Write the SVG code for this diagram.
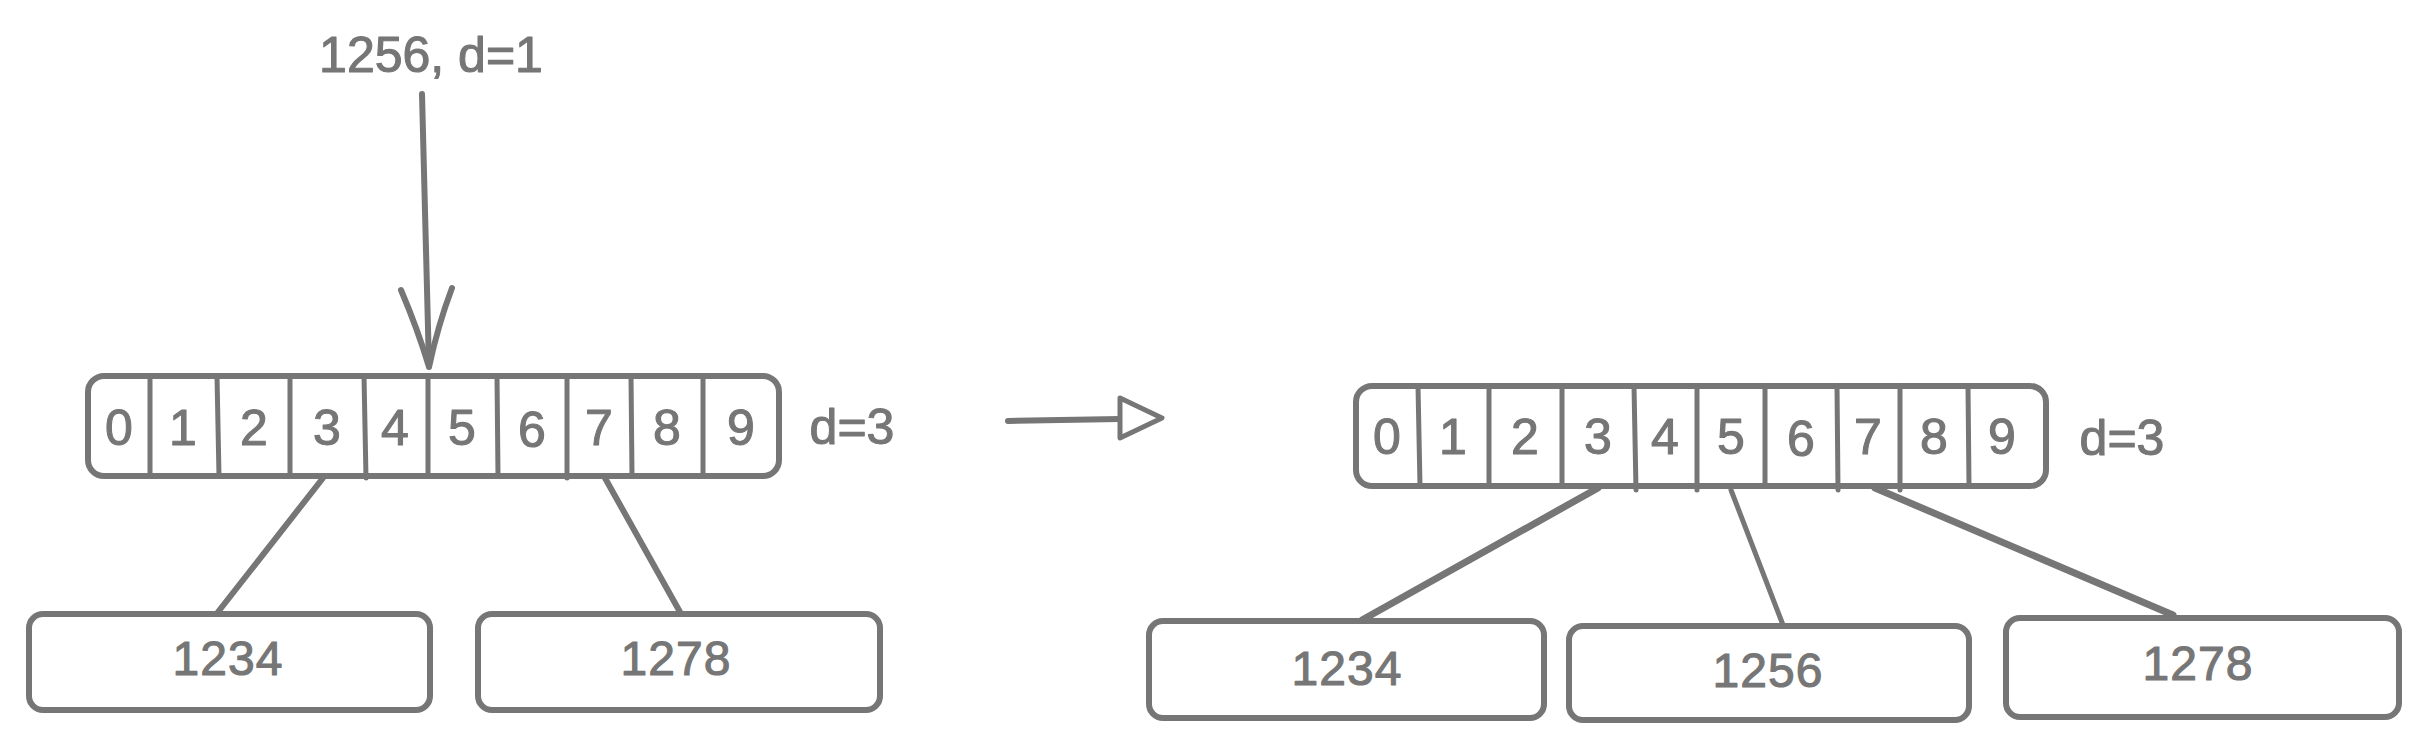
<svg xmlns="http://www.w3.org/2000/svg" width="2419" height="749" viewBox="0 0 2419 749">
  <defs>
    <style>
      .box { fill: #ffffff; stroke: #767676; stroke-width: 6; stroke-linejoin: round; }
      .div { stroke: #767676; stroke-width: 5; stroke-linecap: round; }
      .con { stroke: #767676; stroke-width: 6; stroke-linecap: round; fill: none; }
      .t { font-family: "Liberation Sans", Arial, sans-serif; fill: #767676; stroke: #767676; stroke-width: 1.1; stroke-linejoin: round; text-anchor: middle; }
      .dg { font-size: 50px; }
      .lb { font-size: 48px; letter-spacing: 1px; }
    </style>
  </defs>
  <rect width="2419" height="749" fill="#ffffff"/>

  <g id="connectors">
    <path class="con" d="M422,94 L429,367"/>
    <path class="con" d="M401,290 Q418,330 429,367 Q438,325 452,288"/>
    <path class="con" d="M323,478 L218,612"/>
    <path class="con" d="M605,478 L680,612"/>
    <path class="con" d="M1008,421 L1120,419"/>
    <path class="con" d="M1120,398 L1162,418 L1120,438 Z" style="stroke-width:5;stroke-linejoin:round;fill:#ffffff"/>
    <path class="con" d="M1598,488 L1362,620" style="stroke-width:7"/>
    <path class="con" d="M1731,490 L1783,625" style="stroke-width:5"/>
    <path class="con" d="M1875,488 L2173,615" style="stroke-width:7"/>
  </g>

  <g id="label-insert">
    <text class="t dg" x="431" y="72">1256, d=1</text>
  </g>

  <g id="array-left">
    <rect class="box" x="88" y="376" width="691" height="100" rx="16"/>
    <line class="div" x1="150" y1="376" x2="150" y2="476"/>
    <line class="div" x1="217" y1="376" x2="219" y2="476"/>
    <line class="div" x1="290" y1="376" x2="290" y2="476"/>
    <line class="div" x1="364" y1="376" x2="366" y2="478"/>
    <line class="div" x1="428" y1="376" x2="428" y2="476"/>
    <line class="div" x1="497" y1="376" x2="498" y2="476"/>
    <line class="div" x1="567" y1="376" x2="567" y2="478"/>
    <line class="div" x1="631" y1="376" x2="632" y2="476"/>
    <line class="div" x1="703" y1="376" x2="703" y2="476"/>
    <g class="t dg">
      <text x="119" y="445">0</text>
      <text x="183" y="445">1</text>
      <text x="254" y="445">2</text>
      <text x="327" y="445">3</text>
      <text x="395" y="445">4</text>
      <text x="462" y="445">5</text>
      <text x="532" y="447">6</text>
      <text x="599" y="445">7</text>
      <text x="667" y="445">8</text>
      <text x="741" y="445">9</text>
    </g>
    <text class="t dg" x="852" y="444">d=3</text>
  </g>

  <g id="leaf-left-1234">
    <rect class="box" x="29" y="614" width="401" height="96" rx="14"/>
    <text class="t lb" x="228" y="675">1234</text>
  </g>
  <g id="leaf-left-1278">
    <rect class="box" x="478" y="614" width="402" height="96" rx="14"/>
    <text class="t lb" x="676" y="675">1278</text>
  </g>

  <g id="array-right">
    <rect class="box" x="1356" y="386" width="690" height="100" rx="16"/>
    <line class="div" x1="1418" y1="386" x2="1420" y2="486"/>
    <line class="div" x1="1489" y1="386" x2="1489" y2="486"/>
    <line class="div" x1="1562" y1="386" x2="1562" y2="486"/>
    <line class="div" x1="1634" y1="386" x2="1636" y2="490"/>
    <line class="div" x1="1697" y1="386" x2="1697" y2="490"/>
    <line class="div" x1="1765" y1="386" x2="1765" y2="486"/>
    <line class="div" x1="1837" y1="386" x2="1838" y2="490"/>
    <line class="div" x1="1900" y1="386" x2="1900" y2="490"/>
    <line class="div" x1="1968" y1="386" x2="1969" y2="486"/>
    <g class="t dg">
      <text x="1387" y="454">0</text>
      <text x="1453" y="454">1</text>
      <text x="1525" y="454">2</text>
      <text x="1598" y="454">3</text>
      <text x="1665" y="454">4</text>
      <text x="1731" y="454">5</text>
      <text x="1801" y="456">6</text>
      <text x="1868" y="454">7</text>
      <text x="1934" y="454">8</text>
      <text x="2002" y="454">9</text>
    </g>
    <text class="t dg" x="2122" y="455">d=3</text>
  </g>

  <g id="leaf-right-1234">
    <rect class="box" x="1149" y="621" width="395" height="97" rx="14"/>
    <text class="t lb" x="1347" y="685">1234</text>
  </g>
  <g id="leaf-right-1256">
    <rect class="box" x="1569" y="626" width="400" height="94" rx="14"/>
    <text class="t lb" x="1768" y="687">1256</text>
  </g>
  <g id="leaf-right-1278">
    <rect class="box" x="2006" y="618" width="393" height="99" rx="14"/>
    <text class="t lb" x="2198" y="680">1278</text>
  </g>
</svg>
